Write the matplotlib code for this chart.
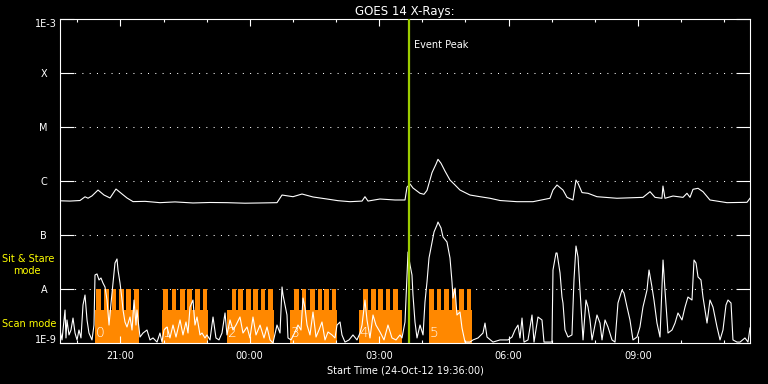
import matplotlib
matplotlib.use('Agg')
import matplotlib.pyplot as plt
import matplotlib.transforms as mtransforms
from matplotlib.ticker import FixedLocator, NullLocator

# time axis: minutes after the start time 24-Oct-12 19:36:00
t_range = (0, 960)

# GOES 14 long channel (1-8 A), W/m^2
long_t = [0, 13.9, 27.8, 34.8, 39, 44.5, 52.9, 61.2, 69.6, 77.9, 86.3, 93.2, 101.6,
          118.3, 139.1, 160, 185, 208.7, 232.3, 257.4, 278.3, 301.9, 308.9, 324.2,
          336.7, 352, 371.5, 386.8, 403.5, 420.2, 424.3, 428.5, 445.2, 466.1, 480,
          482.8, 487, 491.1, 500.9, 506.4, 510.6, 517.6, 523.1, 525.9, 530.1, 535.6,
          542.6, 549.6, 556.5, 570.4, 584.3, 598.3, 612.2, 635.8, 658.1, 681.7, 685.9,
          691.5, 699.8, 705.4, 713.7, 717.9, 720.7, 726.3, 734.6, 747.1, 774.9, 811.1,
          820.9, 827.8, 837.5, 838.9, 841.7, 852.9, 866.8, 872.3, 876.5, 880.7, 887.7,
          894.6, 904.3, 928, 955.8, 960]
long_flux = [4.3e-7, 4.25e-7, 4.35e-7, 5.1e-7, 4.8e-7, 5.3e-7, 6.8e-7, 5.5e-7, 4.85e-7,
             7.1e-7, 5.75e-7, 4.85e-7, 4.15e-7, 4.2e-7, 3.97e-7, 4.1e-7, 3.92e-7, 4.0e-7,
             3.97e-7, 3.88e-7, 3.92e-7, 3.97e-7, 5.5e-7, 5.12e-7, 5.74e-7, 5.06e-7,
             4.64e-7, 4.32e-7, 4.14e-7, 4.25e-7, 5.12e-7, 4.25e-7, 4.64e-7, 4.45e-7,
             4.45e-7, 7.7e-7, 8.8e-7, 7.42e-7, 5.92e-7, 5.67e-7, 6.7e-7, 1.43e-6, 2.05e-6,
             2.52e-6, 2.13e-6, 1.53e-6, 1.04e-6, 8.43e-7, 6.8e-7, 5.5e-7, 5.12e-7, 4.79e-7,
             4.35e-7, 4.14e-7, 4.14e-7, 4.79e-7, 6.8e-7, 8.43e-7, 6.8e-7, 4.98e-7, 4.45e-7,
             1.04e-6, 9.1e-7, 6.1e-7, 5.92e-7, 5.12e-7, 4.79e-7, 4.98e-7, 6.34e-7, 4.98e-7,
             4.79e-7, 8.07e-7, 4.79e-7, 5.27e-7, 4.98e-7, 5.92e-7, 4.98e-7, 7.02e-7,
             7.32e-7, 6.34e-7, 4.45e-7, 3.97e-7, 4.03e-7, 4.79e-7]

# GOES 14 short channel (0.5-4 A), W/m^2
short_t = [0, 2.8, 7.0, 8.3, 9.7, 12.5, 15.3, 18.1, 20.9, 23.7, 26.4, 29.2, 32.0, 34.8,
           37.6, 40.3, 44.5, 47.3, 48.7, 51.5, 54.3, 57.0, 59.8, 62.6, 65.4, 68.2, 71.0,
           73.7, 76.5, 79.3, 80.7, 83.5, 86.3, 87.7, 90.4, 93.2, 97.4, 100.2, 103.0,
           105.7, 107.1, 111.3, 115.5, 121.0, 125.2, 129.4, 135.0, 139.1, 141.9, 144.7,
           148.9, 153.0, 157.2, 161.4, 167.0, 171.1, 175.3, 178.1, 180.9, 185.0, 187.8,
           190.6, 194.8, 197.6, 201.7, 204.5, 208.7, 212.9, 217.0, 221.2, 225.4, 229.6,
           232.3, 236.5, 240.7, 244.9, 250.4, 254.6, 260.2, 264.3, 268.5, 272.7, 278.3,
           283.8, 288.0, 292.2, 296.3, 301.9, 306.1, 308.9, 310.3, 313.0, 315.8, 317.2,
           321.4, 327.0, 331.1, 335.3, 338.1, 340.9, 343.7, 347.8, 352.0, 356.2, 360.3,
           364.5, 368.7, 372.9, 378.4, 382.6, 385.4, 389.6, 392.3, 396.5, 402.1, 407.6,
           413.2, 417.4, 420.2, 424.3, 427.1, 431.3, 435.5, 439.6, 445.2, 450.8, 456.3,
           461.9, 467.5, 473.0, 475.8, 480.0, 482.8, 484.2, 487.0, 489.7, 491.1, 493.9,
           496.7, 500.9, 505.1, 507.8, 510.6, 513.4, 517.6, 520.4, 524.5, 525.9, 530.1,
           532.9, 538.4, 542.6, 545.4, 546.8, 549.6, 552.3, 556.5, 559.3, 563.5, 570.4,
           574.6, 581.6, 588.5, 591.3, 594.1, 602.4, 612.2, 623.3, 628.9, 633.0, 637.2,
           640.0, 642.8, 645.6, 651.1, 656.7, 659.5, 665.0, 670.6, 673.4, 679.0, 684.5,
           685.9, 690.1, 691.5, 695.7, 698.4, 699.8, 702.6, 706.8, 712.3, 715.1, 717.9,
           720.7, 723.5, 727.7, 731.8, 734.6, 737.4, 740.2, 743.0, 747.1, 751.3, 754.1,
           758.3, 762.4, 768.0, 772.2, 776.3, 781.9, 784.7, 788.9, 793.0, 797.2, 802.8,
           806.9, 811.1, 816.7, 819.5, 823.6, 826.4, 830.6, 834.8, 839.0, 841.7, 845.9,
           851.5, 855.7, 859.8, 865.4, 869.6, 873.7, 879.3, 882.1, 884.9, 887.7, 891.8,
           894.6, 900.2, 904.3, 908.5, 914.1, 918.3, 922.4, 926.6, 929.4, 933.6, 936.3,
           941.9, 946.1, 953.0, 957.2, 960]
short_flux = [1.74e-9, 1.14e-9, 4.08e-9, 1.24e-9, 2.67e-9, 1.41e-9, 1.74e-9, 2.9e-9,
              1.53e-9, 1.14e-9, 1.74e-9, 1.24e-9, 5.06e-9, 7.74e-9, 2.67e-9, 1.53e-9,
              1.14e-9, 2.15e-9, 1.82e-8, 1.9e-8, 1.47e-8, 1.6e-8, 1.29e-8, 1.09e-8,
              6.25e-9, 2.15e-9, 5.5e-9, 1.29e-8, 3.03e-8, 3.6e-8, 2.25e-8, 1.29e-8,
              6.25e-9, 4.08e-9, 2.45e-9, 1.98e-9, 3.03e-9, 1.74e-9, 6.25e-9, 2.15e-9,
              4.08e-9, 1.29e-9, 1.53e-9, 1.74e-9, 1.14e-9, 1.24e-9, 1.04e-9, 1.53e-9,
              1.04e-9, 1.74e-9, 1.98e-9, 1.24e-9, 2.15e-9, 1.29e-9, 2.67e-9, 1.41e-9,
              2.45e-9, 1.53e-9, 4.64e-9, 6.25e-9, 2.15e-9, 3.03e-9, 1.41e-9, 1.53e-9,
              1.24e-9, 1.41e-9, 1.14e-9, 3.03e-9, 1.24e-9, 1.14e-9, 1.53e-9, 3.6e-9,
              1.41e-9, 2.67e-9, 1.74e-9, 2.15e-9, 3.03e-9, 1.53e-9, 1.98e-9, 1.24e-9,
              3.03e-9, 1.41e-9, 2.15e-9, 1.24e-9, 1.98e-9, 1.14e-9, 1.0e-9, 2.15e-9,
              1.53e-9, 1.09e-8, 7.74e-9, 5.06e-9, 3.3e-9, 1.24e-9, 1.14e-9, 1.6e-9,
              2.15e-9, 1.74e-9, 6.8e-9, 4.45e-9, 2.15e-9, 1.41e-9, 3.75e-9, 1.29e-9,
              1.74e-9, 2.45e-9, 1.14e-9, 1.6e-9, 1.41e-9, 1.24e-9, 2.15e-9, 2.45e-9,
              1.41e-9, 1.04e-9, 1.14e-9, 1.41e-9, 1.14e-9, 1.53e-9, 2.15e-9, 6.25e-9,
              2.67e-9, 1.24e-9, 3.3e-9, 2.15e-9, 1.6e-9, 1.14e-9, 2.15e-9, 1.24e-9,
              1.14e-9, 1.41e-9, 1.24e-9, 2.45e-9, 1.82e-8, 4.84e-8, 2.78e-8, 1.82e-8,
              7.74e-9, 2.45e-9, 1.24e-9, 2.15e-9, 1.41e-9, 5.74e-9, 1.35e-8, 3.75e-8,
              7.42e-8, 1.14e-7, 1.53e-7, 1.74e-7, 1.35e-7, 9.19e-8, 7.42e-8, 3.75e-8,
              1.35e-8, 6.8e-9, 1.04e-8, 3.3e-9, 3.75e-9, 1.9e-9, 1.04e-9, 1.04e-9,
              1.14e-9, 1.24e-9, 1.53e-9, 2.34e-9, 1.29e-9, 1.04e-9, 1.14e-9, 1.14e-9,
              1.29e-9, 1.74e-9, 2.15e-9, 1.24e-9, 2.9e-9, 1.04e-9, 1.14e-9, 3.3e-9,
              1.04e-9, 3.03e-9, 2.67e-9, 1.04e-9, 1.04e-9, 1.04e-9, 2.25e-8, 4.64e-8,
              4.64e-8, 1.98e-8, 7.1e-9, 5.5e-9, 1.74e-9, 1.29e-9, 1.41e-9, 1.47e-8,
              6.25e-8, 3.92e-8, 9.58e-9, 1.14e-9, 6.25e-9, 4.64e-9, 2.67e-9, 1.14e-9,
              1.74e-9, 3.3e-9, 2.34e-9, 1.14e-9, 2.67e-9, 1.98e-9, 1.14e-9, 1.04e-9,
              5.5e-9, 9.58e-9, 8.43e-9, 4.64e-9, 2.67e-9, 1.14e-9, 1.29e-9, 1.98e-9,
              4.64e-9, 9.58e-9, 2.25e-8, 1.09e-8, 6.25e-9, 2.34e-9, 1.29e-9, 3.44e-8,
              9.58e-9, 1.53e-9, 1.74e-9, 2.34e-9, 3.6e-9, 2.67e-9, 4.64e-9, 7.1e-9,
              6.25e-9, 3.44e-8, 3.03e-8, 1.67e-8, 1.47e-8, 7.1e-9, 2.34e-9, 6.25e-9,
              4.64e-9, 1.98e-9, 1.14e-9, 1.74e-9, 5.06e-9, 6.25e-9, 5.5e-9, 1.14e-9,
              1.04e-9, 1.04e-9, 1.24e-9, 1.04e-9, 1.9e-9]

# observing modes: scan blocks and the sit & stare teeth inside them
scan_start = [48.7, 141.5, 231.9, 320.0, 416.0, 513.4]
scan_end = [108.9, 206.3, 297.7, 385.0, 475.8, 572.8]
scan_labels = ['0', '1', '2', '3', '4', '5']
stare_start = [
    [50.1, 61.2, 71.7, 82.1, 92.5, 103.0],
    [143.7, 155.4, 167.0, 177.1, 187.8, 198.5],
    [238.9, 248.1, 258.8, 268.9, 279.2, 289.8],
    [326.0, 336.3, 347.8, 358.5, 367.7, 378.0],
    [422.0, 432.7, 442.9, 453.1, 463.7],
    [513.4, 524.1, 534.7, 545.0, 555.1, 565.8],
]
stare_len = 6.5
scan_level = 4.1e-9
stare_level = 1e-8

event_peak = 485.6

y_ticks = [1e-9, 1e-8, 1e-7, 1e-6, 1e-5, 1e-4, 1e-3]
y_labels = ['1E-9', 'A', 'B', 'C', 'M', 'X', '1E-3']
x_major = [84, 264, 444, 624, 804]
x_labels = ['21:00', '00:00', '03:00', '06:00', '09:00']
x_minor = [24, 144, 204, 324, 384, 504, 564, 684, 744, 864, 924]

ORANGE = '#ff8800'
GREEN = '#9ccc00'

plt.rcParams['font.family'] = ['DejaVu Sans']
fig = plt.figure(figsize=(7.68, 3.84), dpi=100, facecolor='black')
ax = fig.add_axes([60/768, 41/384, 690/768, 324/384], facecolor='black')

# mode blocks (under the curves)
for i in range(len(scan_start)):
    ax.bar(scan_start[i], scan_level - 1e-9, bottom=1e-9, width=scan_end[i] - scan_start[i],
           align='edge', color=ORANGE, linewidth=0, zorder=1)
    for s in stare_start[i]:
        ax.bar(s, stare_level - 1e-9, bottom=1e-9, width=stare_len, align='edge',
               color=ORANGE, linewidth=0, zorder=1)
    ax.text(scan_start[i] + 1.2, 1.5e-9, scan_labels[i], color='white', fontsize=10,
            fontweight='light', ha='left', va='center', zorder=4)

ax.plot(long_t, long_flux, color='white', lw=0.8, zorder=3)
ax.plot(short_t, short_flux, color='white', lw=0.8, zorder=3)

ax.axvline(event_peak, color=GREEN, lw=1.6, zorder=5)
ax.text(event_peak + 7, 3.3e-4, 'Event Peak', color='white', fontsize=7,
        ha='left', va='center')

ax.set_yscale('log')
ax.set_ylim(1e-9, 1e-3)
ax.set_xlim(*t_range)

# dotted flare-class grid
for y in y_ticks[1:-1]:
    ax.axhline(y, color='white', lw=0.75, linestyle=(0, (1, 6)), zorder=0.5)

ax.yaxis.set_major_locator(FixedLocator(y_ticks))
ax.yaxis.set_minor_locator(NullLocator())
ax.set_yticklabels(y_labels)
ax.xaxis.set_major_locator(FixedLocator(x_major))
ax.xaxis.set_minor_locator(FixedLocator(x_minor))
ax.set_xticklabels(x_labels)

ax.tick_params(axis='y', which='major', direction='in', length=10, width=0.8,
               left=True, right=True, colors='white', labelsize=7, pad=2)
ax.tick_params(axis='x', which='major', direction='in', length=5, width=0.8,
               top=True, bottom=True, colors='white', labelsize=7, pad=6)
ax.tick_params(axis='x', which='minor', direction='in', length=2.2, width=0.8,
               top=True, bottom=True, colors='white')

shift = mtransforms.ScaledTranslation(-10/100, 0, fig.dpi_scale_trans)
for lab in ax.get_yticklabels():
    txt = lab.get_text()
    if txt == '1E-9':
        lab.set_va('baseline')
    elif txt == '1E-3':
        lab.set_va('top')
    else:
        lab.set_transform(lab.get_transform() + shift)

for sp in ax.spines.values():
    sp.set_color('white')
    sp.set_linewidth(0.8)

ax.set_title('GOES 14 X-Rays:', color='white', fontsize=8.5, pad=3)
ax.set_xlabel('Start Time (24-Oct-12 19:36:00)', color='white', fontsize=7, labelpad=3)

# mode legend on the left
fig.text(2/768, 1 - 259/384, 'Sit & Stare', color='yellow', fontsize=7, ha='left', va='center')
fig.text(13/768, 1 - 271/384, 'mode', color='yellow', fontsize=7, ha='left', va='center')
fig.text(2/768, 1 - 324/384, 'Scan mode', color='yellow', fontsize=7, ha='left', va='center')

fig.savefig('out.png', dpi=100, facecolor='black')
